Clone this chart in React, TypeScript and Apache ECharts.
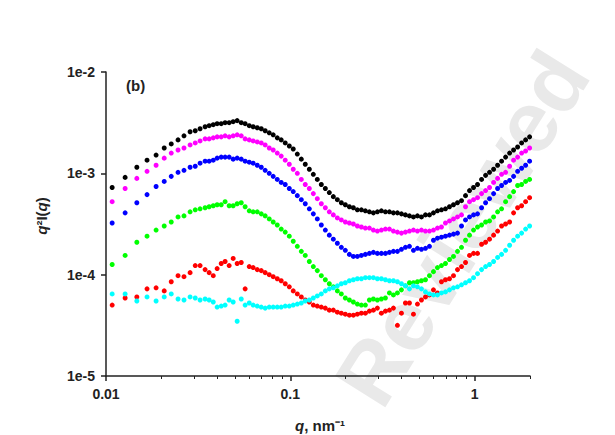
import React, { useEffect, useRef } from "react";
import * as echarts from "echarts";

// scattering vector q (nm^-1), shared by all curves
const qValues = [
  0.0108, 0.0127, 0.0147, 0.0167, 0.0187, 0.0207, 0.0226, 0.0246, 0.0265, 0.0286,
  0.0305, 0.0324, 0.0345, 0.0363, 0.0382, 0.0401, 0.0422, 0.0443, 0.0466, 0.049,
  0.0515, 0.0542, 0.0569, 0.0599, 0.0629, 0.0662, 0.0696, 0.0731, 0.0769, 0.0808,
  0.085, 0.0893, 0.0939, 0.0988, 0.1038, 0.1092, 0.1148, 0.1206, 0.1269, 0.1334,
  0.1402, 0.1474, 0.155, 0.1629, 0.1713, 0.1801, 0.1893, 0.199, 0.2093, 0.22,
  0.2313, 0.2432, 0.2556, 0.2688, 0.2826, 0.2971, 0.3123, 0.3284, 0.3452, 0.3629,
  0.3815, 0.4012, 0.4217, 0.4434, 0.4661, 0.49, 0.5152,
  0.5417, 0.5694, 0.5986, 0.6293, 0.6616, 0.6955, 0.7313, 0.7688, 0.8083, 0.8498,
  0.8935, 0.9393, 0.9876, 1.038, 1.092, 1.148, 1.206, 1.269, 1.334, 1.402,
  1.474, 1.55, 1.629, 1.713, 1.801, 1.893, 1.99,
];

// log10 of q^2 I(q) for each curve
const blackLog = [
  -3.14, -3.04, -2.94, -2.87, -2.82, -2.75, -2.71, -2.67, -2.63, -2.59,
  -2.58, -2.56, -2.54, -2.53, -2.52, -2.51, -2.51, -2.50, -2.50, -2.49,
  -2.48, -2.50, -2.51, -2.53, -2.54, -2.55, -2.56, -2.58, -2.60, -2.62,
  -2.65, -2.67, -2.70, -2.73, -2.76, -2.81, -2.86, -2.91, -2.96, -3.01,
  -3.06, -3.11, -3.15, -3.19, -3.23, -3.26, -3.29, -3.31, -3.33, -3.34,
  -3.36, -3.36, -3.37, -3.38, -3.39, -3.38, -3.37, -3.38, -3.38, -3.39,
  -3.39, -3.40, -3.41, -3.42, -3.43, -3.42, -3.43,
  -3.41, -3.41, -3.39, -3.37, -3.36, -3.35, -3.33, -3.31, -3.29, -3.27,
  -3.22, -3.17, -3.14, -3.11, -3.06, -3.02, -2.99, -2.96, -2.92, -2.88,
  -2.84, -2.80, -2.77, -2.74, -2.70, -2.67, -2.64,
];
const magentaLog = [
  -3.28, -3.15, -3.05, -2.98, -2.92, -2.85, -2.80, -2.77, -2.75, -2.72,
  -2.70, -2.68, -2.66, -2.66, -2.65, -2.64, -2.64, -2.63, -2.64, -2.63,
  -2.62, -2.63, -2.66, -2.67, -2.68, -2.69, -2.70, -2.72, -2.75, -2.77,
  -2.80, -2.83, -2.87, -2.91, -2.96, -3.00, -3.06, -3.11, -3.15, -3.20,
  -3.25, -3.30, -3.34, -3.38, -3.41, -3.44, -3.46, -3.48, -3.49, -3.50,
  -3.52, -3.53, -3.54, -3.54, -3.56, -3.57, -3.56, -3.55, -3.55, -3.57,
  -3.58, -3.59, -3.58, -3.57, -3.56, -3.57, -3.56,
  -3.57, -3.57, -3.56, -3.54, -3.53, -3.49, -3.47, -3.45, -3.43, -3.41,
  -3.33, -3.28, -3.26, -3.24, -3.20, -3.17, -3.14, -3.09, -3.05, -3.01,
  -2.99, -2.93, -2.87, -2.84, -2.80, -2.78, -2.75,
];
const blueLog = [
  -3.49, -3.39, -3.29, -3.21, -3.13, -3.08, -3.03, -2.99, -2.97, -2.94,
  -2.93, -2.90, -2.88, -2.88, -2.87, -2.85, -2.84, -2.84, -2.84, -2.86,
  -2.85, -2.86, -2.88, -2.89, -2.90, -2.92, -2.94, -2.97, -3.00, -3.03,
  -3.06, -3.09, -3.11, -3.15, -3.18, -3.22, -3.26, -3.30, -3.35, -3.40,
  -3.45, -3.51, -3.56, -3.61, -3.65, -3.69, -3.73, -3.76, -3.80, -3.82,
  -3.82, -3.81, -3.80, -3.79, -3.78, -3.79, -3.79, -3.79, -3.78, -3.77,
  -3.77, -3.75, -3.73, -3.72, -3.76, -3.74, -3.75,
  -3.74, -3.72, -3.66, -3.64, -3.63, -3.62, -3.61, -3.60, -3.59, -3.52,
  -3.46, -3.43, -3.41, -3.40, -3.34, -3.29, -3.25, -3.20, -3.15, -3.12,
  -3.09, -3.07, -3.03, -2.98, -2.95, -2.92, -2.88,
];
const greenLog = [
  -3.90, -3.81, -3.68, -3.62, -3.56, -3.52, -3.48, -3.43, -3.42, -3.38,
  -3.36, -3.35, -3.34, -3.33, -3.32, -3.31, -3.31, -3.28, -3.32, -3.32,
  -3.30, -3.29, -3.33, -3.37, -3.38, -3.38, -3.40, -3.42, -3.45, -3.48,
  -3.51, -3.55, -3.58, -3.62, -3.67, -3.72, -3.77, -3.81, -3.87, -3.92,
  -3.96, -4.01, -4.05, -4.09, -4.12, -4.16, -4.19, -4.23, -4.25, -4.27,
  -4.29, -4.30, -4.30, -4.25, -4.24, -4.25, -4.24, -4.23, -4.18, -4.20,
  -4.18, -4.15, -4.11, -4.08, -4.08, -4.07, -4.06,
  -4.05, -4.01, -3.97, -3.93, -3.91, -3.89, -3.85, -3.82, -3.77, -3.73,
  -3.66, -3.61, -3.56, -3.53, -3.51, -3.48, -3.47, -3.43, -3.38, -3.35,
  -3.28, -3.23, -3.18, -3.12, -3.11, -3.08, -3.06,
];
const redLog = [
  -4.30, -4.23, -4.22, -4.14, -4.13, -4.16, -4.07, -4.01, -4.02, -3.98,
  -3.91, -3.91, -3.95, -3.98, -4.01, -3.94, -3.89, -3.87, -3.91, -3.84,
  -3.89, -3.88, -4.14, -3.92, -3.93, -3.95, -3.96, -3.98, -4.00, -4.02,
  -4.04, -4.06, -4.09, -4.12, -4.16, -4.19, -4.22, -4.25, -4.27, -4.30,
  -4.31, -4.32, -4.33, -4.35, -4.35, -4.37, -4.38, -4.39, -4.40, -4.40,
  -4.39, -4.38, -4.38, -4.36, -4.35, -4.33, -4.38, -4.36, -4.35, -4.33,
  -4.50, -4.38, -4.28, -4.28, -4.39, -4.29, -4.25,
  -4.22, -4.20, -4.15, -4.18, -4.07, -4.05, -4.04, -4.01, -3.95, -3.92,
  -3.88, -3.81, -3.79, -3.79, -3.70, -3.68, -3.65, -3.61, -3.57, -3.52,
  -3.50, -3.48, -3.39, -3.34, -3.32, -3.28, -3.24,
];
const cyanLog = [
  -4.19, -4.19, -4.26, -4.22, -4.26, -4.22, -4.19, -4.24, -4.25, -4.22,
  -4.23, -4.25, -4.24, -4.25, -4.27, -4.32, -4.31, -4.30, -4.25, -4.27,
  -4.46, -4.24, -4.30, -4.28, -4.30, -4.31, -4.32, -4.33, -4.32, -4.32,
  -4.32, -4.32, -4.31, -4.31, -4.30, -4.29, -4.28, -4.26, -4.25, -4.23,
  -4.21, -4.19, -4.16, -4.14, -4.13, -4.11, -4.09, -4.08, -4.06, -4.05,
  -4.04, -4.04, -4.03, -4.03, -4.03, -4.04, -4.04, -4.05, -4.06, -4.06,
  -4.07, -4.09, -4.11, -4.14, -4.11, -4.12, -4.14,
  -4.17, -4.19, -4.20, -4.20, -4.18, -4.17, -4.15, -4.13, -4.12, -4.10,
  -4.08, -4.06, -4.03, -3.99, -3.95, -3.92, -3.90, -3.87, -3.83, -3.80,
  -3.76, -3.71, -3.66, -3.62, -3.59, -3.55, -3.52,
];

const seriesNames = ["black", "magenta", "blue", "green", "red", "cyan"];
const seriesColors = ["#000000", "#ff00ff", "#0000ff", "#00ff00", "#ff0000", "#00ffff"];
const seriesLogs = [blackLog, magentaLog, blueLog, greenLog, redLog, cyanLog];

const xMajorTicks = [0.01, 0.1, 1];
const xMinorTicks = [
  0.02, 0.03, 0.04, 0.05, 0.06, 0.07, 0.08, 0.09,
  0.2, 0.3, 0.4, 0.5, 0.6, 0.7, 0.8, 0.9, 2,
];
const yMajorTicks = [1e-5, 1e-4, 1e-3, 1e-2];

const FONT = "'Liberation Sans', Arial, sans-serif";
const AXIS_COLOR = "#222";

export default function App() {
  const ref = useRef<HTMLDivElement>(null);

  useEffect(() => {
    if (!ref.current) return;
    const chart = echarts.init(ref.current, undefined, { renderer: "svg" });

    const labelStyle = {
      fontFamily: FONT,
      fontWeight: "bold" as const,
      fontSize: 14,
      color: AXIS_COLOR,
    };

    const series = seriesLogs.map((logs, si) => ({
      name: seriesNames[si],
      type: "scatter" as const,
      xAxisIndex: 0,
      yAxisIndex: 0,
      symbol: "circle",
      symbolSize: 5,
      itemStyle: { color: seriesColors[si], opacity: 1 },
      emphasis: { disabled: true },
      data: qValues.map((q, i) => [q, Math.pow(10, logs[i])]),
      z: 3,
    }));

    const richAxisName = {
      i: { fontFamily: FONT, fontWeight: "bold", fontStyle: "italic", fontSize: 15, fill: AXIS_COLOR },
      n: { fontFamily: FONT, fontWeight: "bold", fontSize: 15, fill: AXIS_COLOR },
    };

    chart.setOption({
      animation: false,
      backgroundColor: "#ffffff",
      grid: { left: 106, right: 85, top: 72, bottom: 59, containLabel: false },
      xAxis: [
        {
          type: "log",
          logBase: 10,
          min: 0.01,
          max: 2,
          position: "bottom",
          axisLine: { show: true, onZero: false, lineStyle: { color: AXIS_COLOR, width: 1.5 } },
          axisTick: {
            show: true,
            inside: false,
            length: 5,
            customValues: xMajorTicks,
            lineStyle: { color: AXIS_COLOR, width: 1.5 },
          },
          axisLabel: {
            ...labelStyle,
            customValues: xMajorTicks,
            margin: 11,
            formatter: (v: number) => {
              const e = Math.round(Math.log10(v));
              return e >= 0 ? String(Math.pow(10, e)) : Math.pow(10, e).toFixed(-e);
            },
          },
          splitLine: { show: false },
          minorTick: { show: false },
        },
        {
          type: "log",
          logBase: 10,
          min: 0.01,
          max: 2,
          position: "bottom",
          axisLine: { show: false, onZero: false },
          axisTick: {
            show: true,
            inside: false,
            length: 3,
            customValues: xMinorTicks,
            lineStyle: { color: AXIS_COLOR, width: 1 },
          },
          axisLabel: { show: false },
          splitLine: { show: false },
        },
      ],
      yAxis: {
        type: "log",
        logBase: 10,
        min: 1e-5,
        max: 1e-2,
        axisLine: { show: true, onZero: false, lineStyle: { color: AXIS_COLOR, width: 1.5 } },
        axisTick: {
          show: true,
          inside: false,
          length: 5,
          customValues: yMajorTicks,
          lineStyle: { color: AXIS_COLOR, width: 1.5 },
        },
        axisLabel: {
          ...labelStyle,
          customValues: yMajorTicks,
          margin: 11,
          formatter: (v: number) => "1e" + Math.round(Math.log10(v)),
        },
        splitLine: { show: false },
      },
      graphic: [
        {
          type: "text",
          z: 0,
          x: 462,
          y: 228,
          rotation: (58 * Math.PI) / 180,
          style: {
            text: "Reviewed",
            font: "bold 86px 'Liberation Sans', Arial, sans-serif",
            fill: "#e9e9e9",
            align: "center",
            verticalAlign: "middle",
          },
          silent: true,
        },
        {
          type: "text",
          z: 10,
          x: 126,
          y: 85,
          style: {
            text: "(b)",
            font: "bold 15px 'Liberation Sans', Arial, sans-serif",
            fill: AXIS_COLOR,
            align: "left",
            verticalAlign: "middle",
          },
        },
        {
          type: "text",
          z: 10,
          x: 320,
          y: 425,
          style: {
            text: "{i|q}{n|, nm⁻¹}",
            align: "center",
            verticalAlign: "middle",
            rich: richAxisName,
          },
        },
        {
          type: "text",
          z: 10,
          x: 41,
          y: 216,
          rotation: Math.PI / 2,
          style: {
            text: "{i|q}{n|²I(}{i|q}{n|)}",
            align: "center",
            verticalAlign: "middle",
            rich: richAxisName,
          },
        },
      ],
      series,
    });

    return () => chart.dispose();
  }, []);

  return (
    <div
      ref={ref}
      style={{ position: "absolute", left: 0, top: 0, width: 615, height: 435 }}
    />
  );
}
